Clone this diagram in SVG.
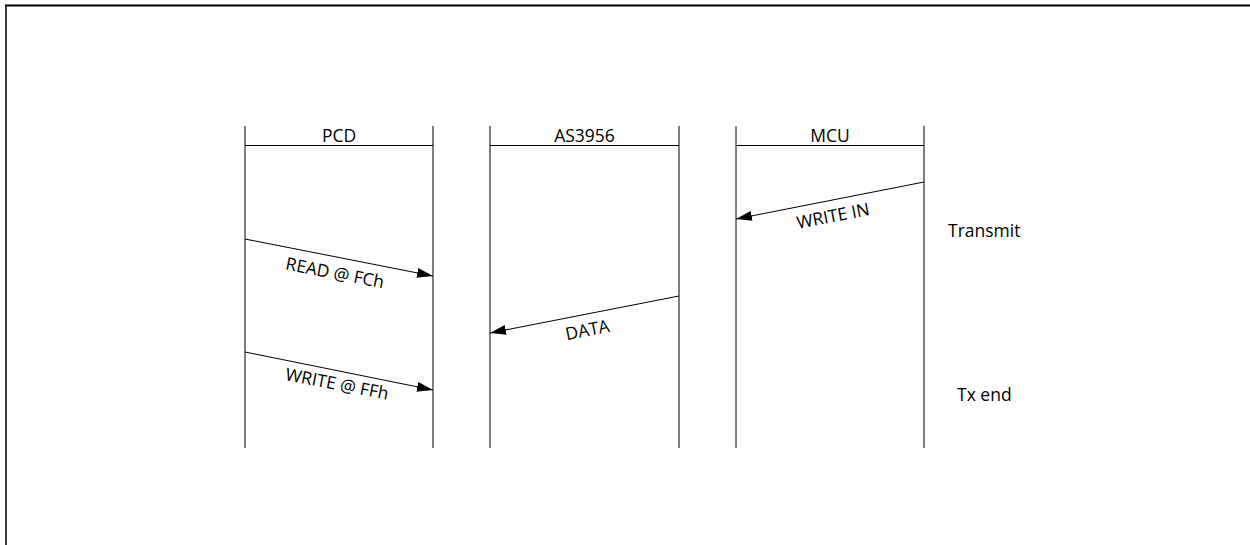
<svg xmlns="http://www.w3.org/2000/svg" width="1250" height="545" viewBox="0 0 1250 545">
<style>
.ln{stroke:#000;stroke-width:1;fill:none}
.msg{stroke:#000;stroke-width:1;fill:none;marker-end:url(#ah)}
text{font-family:"Open Sans","Liberation Sans",sans-serif;font-size:17.5px;fill:#000}
.c{text-anchor:middle}
</style>
<defs>
<marker id="ah" viewBox="0 0 16 10" refX="16" refY="5" markerWidth="16" markerHeight="10" markerUnits="userSpaceOnUse" orient="auto">
<path d="M0,0 L16,5 L0,10 Z" fill="#000"/>
</marker>
</defs>
<rect width="1250" height="545" fill="#fff"/>
<g id="frame">
<line x1="5" y1="5.5" x2="1250" y2="5.5" stroke="#000" stroke-width="2"/>
<line x1="6" y1="5" x2="6" y2="545" stroke="#000" stroke-width="1.5"/>
</g>
<g id="pcd">
<line class="ln" x1="245" y1="126" x2="245" y2="448"/>
<line class="ln" x1="433" y1="126" x2="433" y2="448"/>
<line class="ln" x1="245" y1="145.5" x2="433" y2="145.5"/>
<text class="c" x="339" y="142">PCD</text>
</g>
<g id="as3956">
<line class="ln" x1="490" y1="126" x2="490" y2="448"/>
<line class="ln" x1="679" y1="126" x2="679" y2="448"/>
<line class="ln" x1="490" y1="145.5" x2="679" y2="145.5"/>
<text class="c" x="584.5" y="142">AS3956</text>
</g>
<g id="mcu">
<line class="ln" x1="736" y1="126" x2="736" y2="448"/>
<line class="ln" x1="924" y1="126" x2="924" y2="448"/>
<line class="ln" x1="736" y1="145.5" x2="924" y2="145.5"/>
<text class="c" x="830" y="142">MCU</text>
</g>
<g id="connectors">
<line class="msg" x1="924" y1="182" x2="736" y2="219"/>
<line class="msg" x1="245" y1="239" x2="433" y2="276"/>
<line class="msg" x1="679" y1="296" x2="490" y2="333"/>
<line class="msg" x1="245" y1="352" x2="433" y2="390"/>
</g>
<g id="labels">
<text class="c" transform="translate(833,216) rotate(-11)" y="6">WRITE IN</text>
<text class="c" transform="translate(335,273) rotate(11)" y="6">READ @ FCh</text>
<text class="c" transform="translate(587.5,330) rotate(-11)" y="6">DATA</text>
<text class="c" transform="translate(337,384) rotate(11)" y="6">WRITE @ FFh</text>
</g>
<g id="phases">
<text x="948" y="237">Transmit</text>
<text x="957" y="401">Tx end</text>
</g>
</svg>
